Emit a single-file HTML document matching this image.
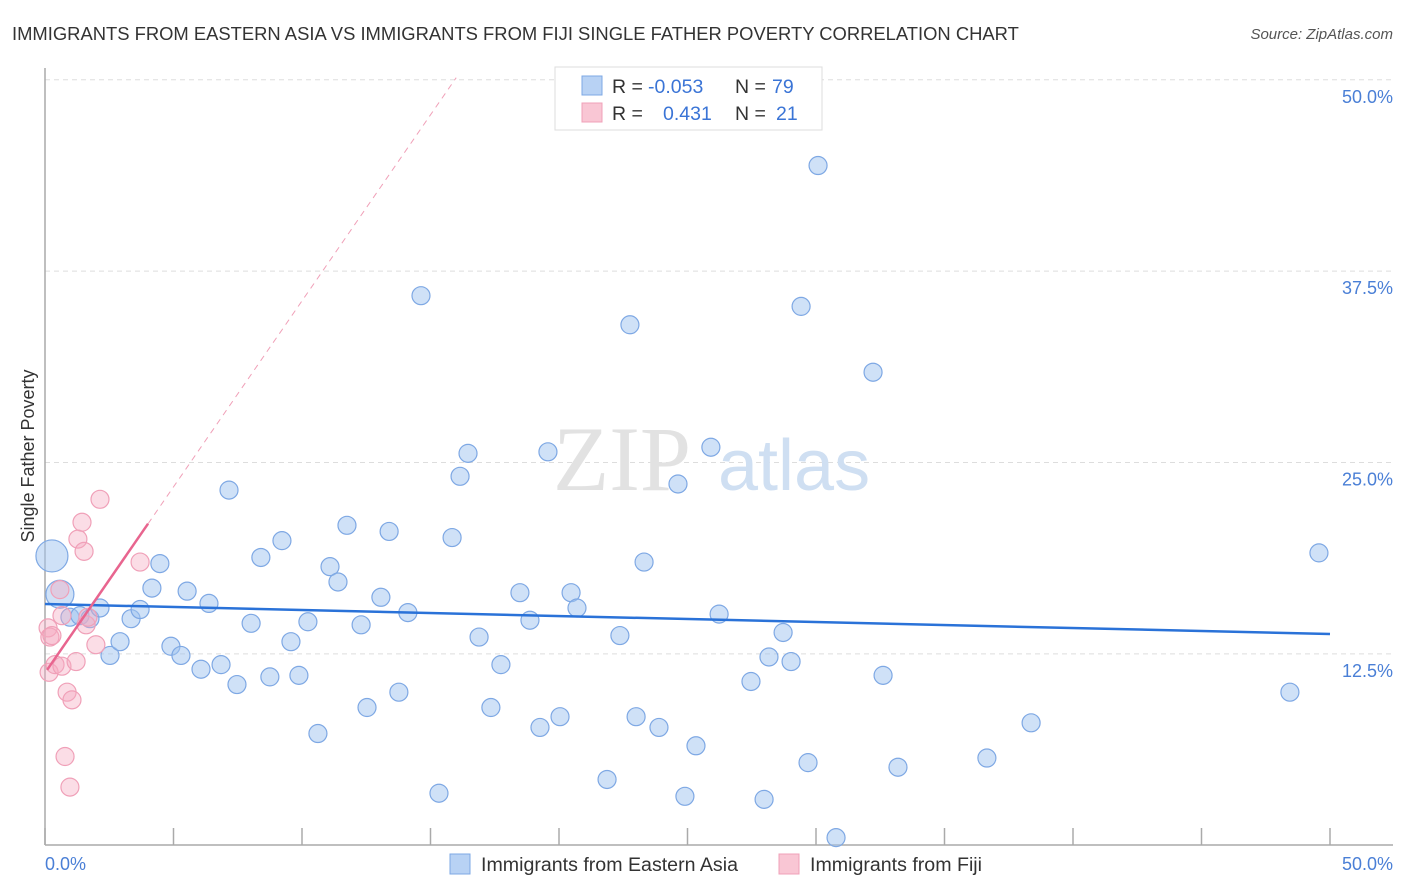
<!DOCTYPE html>
<html><head><meta charset="utf-8"><style>
body{margin:0;background:#fff;font-family:"Liberation Sans",sans-serif;}
svg{display:block}
</style></head><body>
<svg width="1406" height="892" viewBox="0 0 1406 892" xmlns="http://www.w3.org/2000/svg">
<text x="12" y="40" font-size="18.4" fill="#333">IMMIGRANTS FROM EASTERN ASIA VS IMMIGRANTS FROM FIJI SINGLE FATHER POVERTY CORRELATION CHART</text>
<text x="1393" y="39" font-size="15" fill="#555" font-style="italic" text-anchor="end">Source: ZipAtlas.com</text>
<g id="grid"></g>
<g><text x="553" y="490" font-family="Liberation Serif,serif" font-size="92" fill="#e2e2e2">ZIP</text><text x="718" y="490" font-size="72" fill="#cfdff2">atlas</text></g>
<line x1="45" y1="68" x2="45" y2="845" stroke="#aaa" stroke-width="1.5"/>
<line x1="45" y1="845" x2="1393" y2="845" stroke="#aaa" stroke-width="1.5"/>
<g id="xticks"></g>
<g id="ylabels"></g>
<text x="45" y="870" font-size="18" fill="#4a7fd6">0.0%</text>
<text x="1393" y="870" font-size="18" fill="#4a7fd6" text-anchor="end">50.0%</text>
<text transform="translate(34,456) rotate(-90)" font-size="18" fill="#333" text-anchor="middle">Single Father Poverty</text>
<g id="pts"></g>
<g id="lines"></g>
<g>
<rect x="555" y="67" width="267" height="63" fill="#fff" stroke="#ddd"/>
<rect x="582" y="76" width="20" height="19" fill="#b8d2f4" stroke="#7ea8e4"/>
<rect x="582" y="103" width="20" height="19" fill="#f9c6d4" stroke="#f0a0b8"/>
<text y="93" font-size="19.5" fill="#333"><tspan x="612">R =</tspan><tspan x="648" fill="#3a74d6">-0.053</tspan><tspan x="735">N =</tspan><tspan x="772" fill="#3a74d6">79</tspan></text>
<text y="120" font-size="19.5" fill="#333"><tspan x="612">R =</tspan><tspan fill="#3a74d6" x="663">0.431</tspan><tspan x="735">N =</tspan><tspan fill="#3a74d6" x="776">21</tspan></text>
</g>
<g>
<rect x="450" y="854" width="20" height="20" fill="#b8d2f4" stroke="#7ea8e4"/>
<text x="481" y="871" font-size="19.6" fill="#333">Immigrants from Eastern Asia</text>
<rect x="779" y="854" width="20" height="20" fill="#f9c6d4" stroke="#f0a0b8"/>
<text x="810" y="871" font-size="19.6" fill="#333">Immigrants from Fiji</text>
</g>
</svg>
<script>
const yTicks=[12.5,25,37.5,50];
const yTickLabels=["12.5%","25.0%","37.5%","50.0%"];
const xTicks=[0,5,10,15,20,25,30,35,40,45,50];
const blueX=[0.27,0.58,0.97,1.36,1.75,2.14,2.53,2.92,3.35,3.70,4.16,4.47,4.90,5.29,5.53,6.07,6.38,6.85,7.16,7.47,8.02,8.40,8.75,9.22,9.57,9.88,10.23,10.62,11.09,11.40,11.75,12.30,12.53,13.07,13.39,13.77,14.12,14.63,15.33,15.84,16.15,16.46,16.89,17.35,17.74,18.48,18.87,19.26,19.57,20.04,20.47,20.70,21.87,22.37,22.76,23.00,23.31,23.89,24.63,24.90,25.33,25.91,26.23,27.47,27.98,28.17,28.72,29.03,29.42,29.69,30.08,30.78,32.22,32.61,33.19,36.65,38.37,48.44,49.57];
const blueY=[18.9,16.4,14.9,15.0,14.8,15.5,12.4,13.3,14.8,15.4,16.8,18.4,13.0,12.4,16.6,11.5,15.8,11.8,23.2,10.5,14.5,18.8,11.0,19.9,13.3,11.1,14.6,7.3,18.2,17.2,20.9,14.4,9.0,16.2,20.5,10.0,15.2,35.9,3.4,20.1,24.1,25.6,13.6,9.0,11.8,16.5,14.7,7.7,25.7,8.4,16.5,15.5,4.3,13.7,34.0,8.4,18.5,7.7,23.6,3.2,6.5,26.0,15.1,10.7,3.0,12.3,13.9,12.0,35.2,5.4,44.4,0.5,30.9,11.1,5.1,5.7,8.0,10.0,19.1];
const blueR=[16,14];
const pinkX=[0.12,0.16,0.19,0.27,0.39,0.58,0.66,0.78,0.86,0.97,1.05,1.21,1.28,1.44,1.52,1.60,1.98,2.14,3.70,0.66,1.67];
const pinkY=[14.2,11.3,13.6,13.7,11.8,16.7,11.7,5.8,10.0,3.8,9.5,12.0,20.0,21.1,19.2,14.4,13.1,22.6,18.5,15.0,14.9];
const blueTrend=[15.76,13.8];
const pinkTrend=[11.26,2.43];
const X=v=>45+v*25.7, Y=v=>845.3-v*15.31;
const NS="http://www.w3.org/2000/svg";
function mk(t,a,p){const e=document.createElementNS(NS,t);for(const k in a)e.setAttribute(k,a[k]);p.appendChild(e);return e;}
const grid=document.getElementById('grid'),yl=document.getElementById('ylabels'),xt=document.getElementById('xticks');
yTicks.forEach((v,i)=>{
 const l=mk('line',{x1:45,x2:1393,y1:Y(v),y2:Y(v),stroke:'#ddd','stroke-dasharray':'5,4'},grid);
 
 
 const t=mk('text',{x:1393,y:Y(v)+23,'font-size':18,fill:'#4a7fd6','text-anchor':'end'},yl);
 t.textContent=yTickLabels[i];
 
 
});
xTicks.forEach(v=>{
 const l=mk('line',{x1:X(v),x2:X(v),y1:828,y2:845,stroke:'#aaa','stroke-width':1.5},xt);
 
 
});
const pts=document.getElementById('pts');
blueX.forEach((x,i)=>{
 const c=mk('circle',{cx:X(x),cy:Y(blueY[i]),r:blueR[i]||9,fill:'rgba(160,195,240,0.5)',stroke:'#7ea8e4','stroke-width':1.2},pts);
 
 
});
pinkX.forEach((x,i)=>{
 const c=mk('circle',{cx:X(x),cy:Y(pinkY[i]),r:9,fill:'rgba(245,170,192,0.4)',stroke:'#f0a0b8','stroke-width':1.2},pts);
 
 
});
const ln=document.getElementById('lines');
const b=mk('line',{x1:X(0),y1:Y(blueTrend[0]),x2:X(50),y2:Y(blueTrend[1]),stroke:'#2a72d8','stroke-width':2.5},ln);


const p=mk('line',{x1:X(0.08),y1:Y(pinkTrend[0]+pinkTrend[1]*0.08),x2:X(4.01),y2:Y(pinkTrend[0]+pinkTrend[1]*4.01),stroke:'#e8658f','stroke-width':2.5},ln);


const pd=mk('line',{x1:X(4.01),y1:Y(pinkTrend[0]+pinkTrend[1]*4.01),x2:X(16),y2:Y(pinkTrend[0]+pinkTrend[1]*16),stroke:'#f0a0b8','stroke-width':1,'stroke-dasharray':'6,5'},ln);


</script>
</body></html>
